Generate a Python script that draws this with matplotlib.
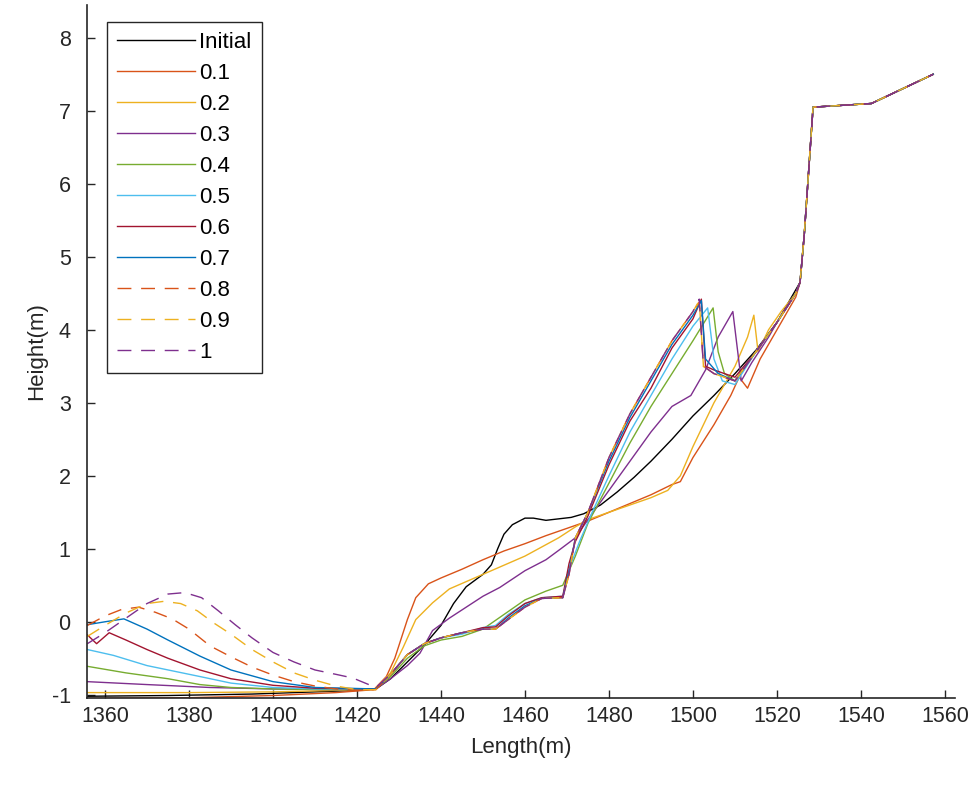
import matplotlib.pyplot as plt

# Profile data (Length in m, Height in m)
tail_x = [1525.5, 1526.5, 1528.6, 1542.5, 1557.2]
tail_y = [4.65, 5.3, 7.05, 7.1, 7.5]

init_x = [1355.8, 1375, 1395, 1410, 1420, 1424.5, 1428, 1432, 1436, 1440, 1443, 1446, 1450, 1452, 1453.5,
          1455, 1457, 1460, 1462, 1465, 1468, 1471, 1474, 1478, 1482, 1486, 1490, 1495, 1500, 1505,
          1510, 1515, 1520, 1524]
init_y = [-1.02, -1.01, -0.99, -0.96, -0.94, -0.92, -0.78, -0.55, -0.32, -0.05, 0.25, 0.48, 0.65, 0.78, 1.0,
          1.2, 1.33, 1.42, 1.42, 1.39, 1.41, 1.43, 1.48, 1.6, 1.78, 1.98, 2.2, 2.5, 2.82, 3.1,
          3.4, 3.72, 4.1, 4.5]

p01_x = [1355.8, 1380, 1400, 1415, 1424, 1427, 1429, 1432, 1434, 1437, 1440, 1445, 1450, 1455, 1460,
         1465, 1470, 1475, 1480, 1485, 1490, 1495, 1497, 1500, 1505, 1509, 1511, 1513, 1516, 1520, 1524.5]
p01_y = [-1.05, -1.04, -1.01, -0.97, -0.93, -0.75, -0.5, 0.03, 0.33, 0.52, 0.6, 0.72, 0.85, 0.97, 1.07,
         1.18, 1.28, 1.38, 1.5, 1.62, 1.74, 1.88, 1.92, 2.25, 2.7, 3.1, 3.35, 3.2, 3.6, 4.0, 4.45]

p02_x = [1355.8, 1380, 1400, 1415, 1424.5, 1428, 1431, 1434, 1438, 1442, 1450, 1460, 1468, 1472, 1475,
         1480, 1485, 1490, 1494, 1497, 1500, 1505, 1510, 1513, 1514.5, 1515.5, 1518, 1521, 1524.5]
p02_y = [-0.97, -0.97, -0.96, -0.94, -0.92, -0.7, -0.35, 0.03, 0.26, 0.45, 0.65, 0.9, 1.15, 1.3, 1.4,
         1.5, 1.6, 1.7, 1.8, 2.0, 2.4, 3.0, 3.5, 3.9, 4.2, 3.7, 4.0, 4.25, 4.5]

p03_x = [1355.8, 1370, 1385, 1400, 1415, 1424.5, 1428, 1432, 1435, 1438, 1442, 1446, 1450, 1454, 1460,
         1465, 1468.3, 1472, 1475, 1480, 1485, 1490, 1495, 1499.5, 1503, 1506, 1509.5, 1511.5, 1514,
         1518, 1521, 1524.5]
p03_y = [-0.82, -0.86, -0.9, -0.92, -0.93, -0.92, -0.78, -0.6, -0.43, -0.12, 0.05, 0.2, 0.35, 0.47, 0.7,
         0.85, 0.99, 1.15, 1.4, 1.8, 2.2, 2.6, 2.95, 3.1, 3.45, 3.9, 4.25, 3.3, 3.55, 3.9, 4.2, 4.5]

p04_x = [1355.8, 1365, 1375, 1382.6, 1390, 1400, 1415, 1424.5, 1428, 1432, 1436, 1440, 1445, 1450, 1455,
         1460, 1465, 1469, 1472, 1475, 1480, 1485, 1490, 1495, 1500, 1504.8, 1506, 1507.5, 1510, 1515,
         1520, 1524.5]
p04_y = [-0.61, -0.7, -0.78, -0.86, -0.9, -0.92, -0.93, -0.92, -0.75, -0.5, -0.33, -0.25, -0.2, -0.1, 0.1,
         0.3, 0.42, 0.5, 0.9, 1.35, 1.9, 2.45, 2.95, 3.4, 3.85, 4.3, 3.7, 3.4, 3.3, 3.7,
         4.1, 4.5]

p05_x = [1355.8, 1362, 1370, 1382.6, 1390, 1400, 1410, 1424.5, 1428, 1432, 1436, 1440, 1445, 1450, 1453,
         1456, 1460, 1464, 1469, 1471, 1473, 1476, 1480, 1485, 1490, 1495, 1500, 1503.5, 1505, 1507,
         1510, 1515, 1520, 1524.5]
p05_y = [-0.38, -0.46, -0.6, -0.75, -0.84, -0.9, -0.92, -0.92, -0.72, -0.45, -0.3, -0.22, -0.17, -0.08, -0.05,
         0.1, 0.25, 0.33, 0.35, 0.8, 1.1, 1.5, 2.0, 2.6, 3.1, 3.6, 4.05, 4.3, 3.6, 3.3,
         3.25, 3.7, 4.1, 4.5]

p06_x = [1355.8, 1358, 1361, 1365, 1370, 1375, 1382.6, 1390, 1400, 1410, 1424.5, 1428, 1432, 1436, 1440,
         1445, 1450, 1453, 1456, 1460, 1464, 1469, 1470.5, 1472, 1475, 1480, 1485, 1490, 1495, 1500,
         1502, 1503, 1505, 1510, 1515, 1520, 1524.5]
p06_y = [-0.18, -0.3, -0.15, -0.25, -0.38, -0.5, -0.66, -0.78, -0.87, -0.91, -0.92, -0.72, -0.45, -0.3, -0.22,
         -0.15, -0.08, -0.07, 0.08, 0.25, 0.33, 0.35, 0.8, 1.1, 1.45, 2.15, 2.75, 3.2, 3.75, 4.15,
         4.42, 3.5, 3.45, 3.35, 3.7, 4.1, 4.5]

p07_x = [1355.8, 1360, 1364.5, 1370, 1375, 1382.6, 1390, 1400, 1410, 1424.5, 1428, 1432, 1436, 1440, 1445,
         1450, 1453, 1456, 1460, 1464, 1469, 1470.5, 1472, 1475, 1480, 1485, 1490, 1495, 1500, 1502,
         1503, 1506, 1510, 1515, 1520, 1524.5]
p07_y = [-0.04, 0.0, 0.04, -0.1, -0.25, -0.47, -0.66, -0.82, -0.9, -0.92, -0.72, -0.45, -0.3, -0.22, -0.15,
         -0.1, -0.1, 0.05, 0.22, 0.32, 0.33, 0.7, 1.15, 1.5, 2.2, 2.8, 3.3, 3.8, 4.2, 4.4,
         3.6, 3.4, 3.3, 3.7, 4.1, 4.5]

p08_x = [1355.8, 1360, 1364, 1368, 1372, 1376, 1380, 1385, 1390, 1395, 1400, 1405, 1410, 1415, 1420,
         1424.5, 1428, 1432, 1436, 1440, 1445, 1450, 1453, 1456, 1460, 1464, 1469, 1470.5, 1472, 1475,
         1480, 1485, 1490, 1495, 1500, 1501.5, 1502.5, 1505, 1510, 1515, 1520, 1524.5]
p08_y = [-0.05, 0.08, 0.17, 0.2, 0.13, 0.04, -0.1, -0.33, -0.48, -0.62, -0.73, -0.82, -0.88, -0.92, -0.94,
         -0.93, -0.72, -0.45, -0.3, -0.22, -0.15, -0.1, -0.1, 0.03, 0.2, 0.32, 0.33, 0.65, 1.15, 1.5,
         2.25, 2.85, 3.35, 3.85, 4.25, 4.38, 3.5, 3.4, 3.3, 3.7, 4.1, 4.5]

p09_x = [1355.8, 1360, 1365, 1370, 1374, 1378, 1382, 1386, 1390, 1395, 1400, 1405, 1410, 1415, 1420,
         1424.5, 1428, 1432, 1436, 1440, 1445, 1450, 1453, 1456, 1460, 1464, 1469, 1470.5, 1472, 1475,
         1480, 1485, 1490, 1495, 1500, 1501.5, 1502.5, 1505, 1510, 1515, 1520, 1524.5]
p09_y = [-0.2, -0.05, 0.12, 0.25, 0.28, 0.25, 0.15, -0.02, -0.17, -0.38, -0.55, -0.7, -0.8, -0.88, -0.93,
         -0.93, -0.72, -0.45, -0.3, -0.22, -0.15, -0.1, -0.1, 0.03, 0.2, 0.32, 0.33, 0.65, 1.15, 1.5,
         2.25, 2.85, 3.35, 3.85, 4.25, 4.4, 3.5, 3.4, 3.3, 3.7, 4.1, 4.5]

p10_x = [1355.8, 1360, 1365, 1370, 1375, 1379, 1383, 1387, 1391, 1395, 1400, 1405, 1410, 1415, 1419,
         1424.5, 1428, 1432, 1436, 1440, 1445, 1450, 1453, 1456, 1460, 1464, 1469, 1470.5, 1472, 1475,
         1480, 1485, 1490, 1495, 1500, 1501.5, 1502.5, 1505, 1510, 1515, 1520, 1524.5]
p10_y = [-0.3, -0.15, 0.05, 0.25, 0.38, 0.4, 0.33, 0.15, -0.04, -0.22, -0.42, -0.55, -0.66, -0.72, -0.77,
         -0.9, -0.72, -0.45, -0.3, -0.22, -0.15, -0.1, -0.1, 0.03, 0.2, 0.32, 0.33, 0.65, 1.15, 1.5,
         2.25, 2.85, 3.35, 3.85, 4.25, 4.42, 3.5, 3.4, 3.3, 3.7, 4.1, 4.5]

labels = ["Initial", "0.1", "0.2", "0.3", "0.4", "0.5", "0.6", "0.7", "0.8", "0.9", "1"]
series_x = [init_x, p01_x, p02_x, p03_x, p04_x, p05_x, p06_x, p07_x, p08_x, p09_x, p10_x]
series_y = [init_y, p01_y, p02_y, p03_y, p04_y, p05_y, p06_y, p07_y, p08_y, p09_y, p10_y]

# MATLAB-like colour order (starting from the 2nd colour)
colors = ["black", "#D95319", "#EDB120", "#7E2F8E", "#77AC30", "#4DBEEE",
          "#A2142F", "#0072BD", "#D95319", "#EDB120", "#7E2F8E"]
styles = ["-"] * 8 + ["--"] * 3

plt.rcParams['font.family'] = ['Liberation Sans', 'DejaVu Sans']
plt.rcParams['axes.unicode_minus'] = False

fig = plt.figure(figsize=(9.76, 7.85), dpi=100)
ax = fig.add_axes([0.0895, 0.1112, 0.889, 0.8825])

for xs, ys, lab, c, ls in zip(series_x, series_y, labels, colors, styles):
    line, = ax.plot(xs + tail_x, ys + tail_y, color=c, linestyle=ls, linewidth=1.0, label=lab)
    if ls == "--":
        line.set_dashes((10, 7))

ax.set_xlim(1355.8, 1562.4)
ax.set_ylim(-1.04, 8.45)
ax.set_xticks(range(1360, 1561, 20))
ax.set_yticks(range(-1, 9))

# MATLAB style axes: only left/bottom, ticks pointing in
for side in ["top", "right"]:
    ax.spines[side].set_visible(False)
for side in ["left", "bottom"]:
    ax.spines[side].set_color("#262626")
    ax.spines[side].set_linewidth(1.2)
ax.tick_params(direction="in", length=6, width=1, colors="#262626", labelsize=15.5)
ax.tick_params(axis="x", pad=6)
ax.tick_params(axis="y", pad=12)

ax.set_xlabel("Length(m)", fontsize=16, color="#262626", labelpad=7)
ax.set_ylabel("Height(m)", fontsize=16, color="#262626", labelpad=3)

leg = ax.legend(loc="upper left", bbox_to_anchor=(0.0224, 0.976), borderaxespad=0,
                fontsize=16, handlelength=3.5, handletextpad=0.22, labelspacing=0.45,
                fancybox=False, framealpha=1, edgecolor="#262626", borderpad=0.45)
leg.get_frame().set_linewidth(1.0)

plt.savefig("out.png", dpi=100)
plt.close()
